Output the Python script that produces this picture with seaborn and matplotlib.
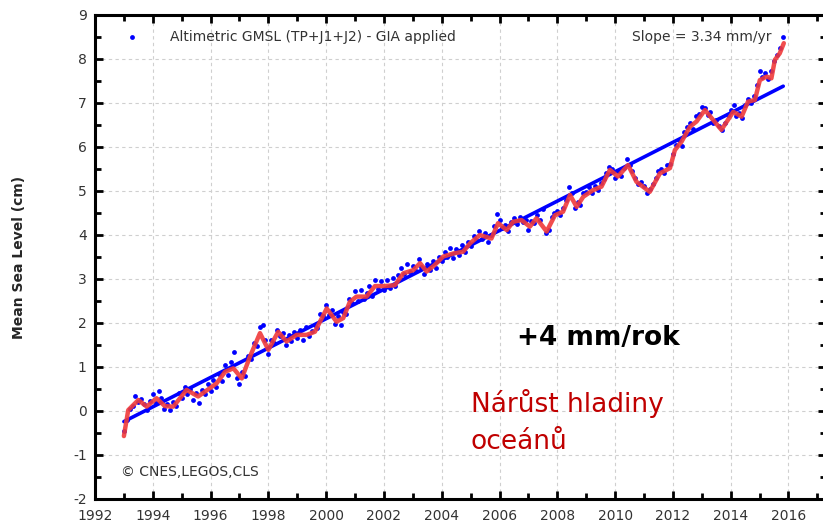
import numpy as np
import pandas as pd
import seaborn as sns
import matplotlib.pyplot as plt
from matplotlib.ticker import MultipleLocator

# smoothed curve (red)
red_years = [1993.0, 1993.15, 1993.5, 1993.79, 1994.13, 1994.42, 1994.71, 1995.17, 1995.57,
             1995.98, 1996.21, 1996.5, 1996.79, 1997.08, 1997.36, 1997.71, 1998.0, 1998.34,
             1998.63, 1998.98, 1999.32, 1999.61, 2000.02, 2000.36, 2000.59, 2000.82, 2001.05,
             2001.4, 2001.69, 2002.03, 2002.38, 2002.67, 2003.01, 2003.25, 2003.48, 2003.76,
             2004.05, 2004.4, 2004.74, 2004.98, 2005.32, 2005.72, 2005.95, 2006.25, 2006.47,
             2006.76, 2007.05, 2007.28, 2007.63, 2007.92, 2008.2, 2008.44, 2008.67, 2008.9,
             2009.24, 2009.53, 2009.82, 2010.1, 2010.45, 2010.74, 2011.2, 2011.55, 2011.9,
             2012.07, 2012.3, 2012.59, 2012.82, 2013.11, 2013.4, 2013.68, 2014.09, 2014.38,
             2014.6, 2014.84, 2015.01, 2015.24, 2015.41, 2015.53, 2015.7, 2015.84]
red_vals = [-0.57, 0.02, 0.25, 0.10, 0.29, 0.11, 0.10, 0.48, 0.33,
            0.52, 0.63, 0.89, 0.97, 0.74, 1.23, 1.77, 1.39, 1.80,
            1.58, 1.73, 1.73, 1.80, 2.33, 2.03, 2.11, 2.48, 2.60,
            2.60, 2.84, 2.84, 2.86, 3.13, 3.20, 3.36, 3.17, 3.32,
            3.51, 3.58, 3.62, 3.81, 4.00, 3.92, 4.27, 4.11, 4.30,
            4.34, 4.19, 4.38, 4.08, 4.45, 4.53, 4.91, 4.64, 4.87,
            5.02, 5.10, 5.48, 5.33, 5.59, 5.21, 4.98, 5.40, 5.52,
            5.93, 6.12, 6.46, 6.58, 6.84, 6.61, 6.39, 6.80, 6.69,
            7.03, 7.07, 7.52, 7.60, 7.56, 7.98, 8.13, 8.36]

# altimetric GMSL samples, one row per year, every 0.1 yr from 1993.0
gmsl_vals = [
    -0.45, -0.20, 0.05, 0.12, 0.33, 0.20, 0.28, 0.15, 0.02, 0.22,   # 1993
    0.38, 0.18, 0.45, 0.30, 0.05, 0.15, 0.02, 0.20, 0.12, 0.40,     # 1994
    0.30, 0.55, 0.38, 0.50, 0.25, 0.40, 0.18, 0.48, 0.38, 0.62,     # 1995
    0.45, 0.70, 0.55, 0.85, 0.68, 1.05, 0.82, 1.12, 1.35, 0.75,     # 1996
    0.62, 0.88, 0.80, 1.25, 1.18, 1.55, 1.48, 1.90, 1.95, 1.62,     # 1997
    1.30, 1.62, 1.55, 1.85, 1.70, 1.78, 1.50, 1.72, 1.58, 1.80,     # 1998
    1.65, 1.85, 1.62, 1.90, 1.70, 1.82, 1.95, 1.88, 2.20, 2.15,     # 1999
    2.42, 2.18, 2.30, 1.98, 2.15, 1.95, 2.25, 2.20, 2.55, 2.45,     # 2000
    2.72, 2.50, 2.75, 2.55, 2.68, 2.85, 2.62, 2.98, 2.78, 2.95,     # 2001
    2.75, 2.98, 2.80, 3.02, 2.85, 3.08, 3.25, 3.12, 3.35, 3.15,     # 2002
    3.30, 3.18, 3.45, 3.28, 3.12, 3.35, 3.20, 3.40, 3.25, 3.50,     # 2003
    3.42, 3.62, 3.50, 3.70, 3.48, 3.68, 3.55, 3.78, 3.62, 3.85,     # 2004
    3.75, 3.98, 3.88, 4.10, 3.92, 4.05, 3.85, 4.00, 4.20, 4.48,     # 2005
    4.35, 4.15, 4.22, 4.08, 4.30, 4.38, 4.25, 4.42, 4.30, 4.35,     # 2006
    4.12, 4.32, 4.28, 4.45, 4.35, 4.58, 4.05, 4.12, 4.40, 4.50,     # 2007
    4.55, 4.45, 4.62, 4.80, 5.08, 4.95, 4.62, 4.75, 4.68, 4.95,     # 2008
    4.98, 5.08, 4.95, 5.12, 5.02, 5.18, 5.28, 5.42, 5.55, 5.50,     # 2009
    5.30, 5.45, 5.35, 5.52, 5.72, 5.60, 5.45, 5.30, 5.15, 5.20,     # 2010
    5.12, 4.95, 5.05, 5.15, 5.30, 5.45, 5.50, 5.40, 5.58, 5.62,     # 2011
    5.85, 6.05, 6.15, 6.02, 6.35, 6.45, 6.55, 6.40, 6.70, 6.75,     # 2012
    6.90, 6.88, 6.72, 6.80, 6.55, 6.62, 6.48, 6.38, 6.55, 6.72,     # 2013
    6.85, 6.95, 6.70, 6.78, 6.65, 6.95, 7.10, 7.00, 7.15, 7.40,     # 2014
    7.72, 7.60, 7.68, 7.55, 7.72, 7.95, 8.10, 8.25, 8.50,           # 2015
]
gmsl_years = 1993.0 + 0.1 * np.arange(len(gmsl_vals))

# linear trend: 3.34 mm/yr
trend_years = [1993.0, 2015.82]
trend_start = -0.24
trend_slope = 0.334  # cm/yr
trend_vals = [trend_start + trend_slope * (y - trend_years[0]) for y in trend_years]

sns.set_theme(style="ticks")
plt.rcParams['font.family'] = ['DejaVu Sans']
plt.rcParams['axes.unicode_minus'] = False

fig = plt.figure(figsize=(8.23, 5.22), dpi=100)
ax = fig.add_axes([95 / 823, 23 / 522, 731 / 823, 484 / 522])

dots = pd.DataFrame({'year': gmsl_years, 'gmsl': gmsl_vals})
sns.scatterplot(data=dots, x='year', y='gmsl', ax=ax, color='#0000ff', s=12,
                linewidth=0, label='Altimetric GMSL (TP+J1+J2) - GIA applied', zorder=3)
sns.lineplot(x=trend_years, y=trend_vals, ax=ax, color='#0000ff', lw=2.6, zorder=4)
sns.lineplot(x=red_years, y=red_vals, ax=ax, color='#f03a3a', lw=3.2, alpha=0.9,
             sort=False, zorder=5)

ax.set_xlim(1992, 2017.3)
ax.set_ylim(-2, 9)
ax.xaxis.set_major_locator(MultipleLocator(2))
ax.xaxis.set_minor_locator(MultipleLocator(1))
ax.yaxis.set_major_locator(MultipleLocator(1))
ax.yaxis.set_minor_locator(MultipleLocator(0.5))
ax.grid(True, which='major', color='#cfcfcf', linestyle=(0, (3, 3)), linewidth=0.8)
ax.tick_params(which='both', direction='in', top=True, right=True, color='black',
               labelcolor='#333333', labelsize=10)
ax.tick_params(which='major', length=6, width=2)
ax.tick_params(which='minor', length=4, width=2)
ax.tick_params(axis='x', which='major', pad=7)
ax.tick_params(axis='y', which='major', pad=6)
for sp in ax.spines.values():
    sp.set_linewidth(2.2)
    sp.set_color('black')

ax.set_xlabel('')
ax.set_ylabel('Mean Sea Level (cm)', fontsize=10, fontweight='bold')
ax.yaxis.set_label_coords(-0.094, 0.5)

leg = ax.legend(loc='upper left', bbox_to_anchor=(0.015, 0.995), frameon=False,
                fontsize=10, handletextpad=1.7, markerscale=1.0, labelcolor='#333333')

ax.text(2015.43, 8.5, 'Slope = 3.34 mm/yr', ha='right', va='center', fontsize=10, color='#333333')
ax.text(1992.9, -1.39, '\u00a9 CNES,LEGOS,CLS', ha='left', va='center', fontsize=10, color='#333333')
ax.text(2006.6, 1.66, '+4 mm/rok', ha='left', va='center', fontsize=19, fontweight='bold', color='black')
ax.text(2005.0, 0.18, 'Nárůst hladiny', ha='left', va='center', fontsize=19, color='#c00000')
ax.text(2005.0, -0.70, 'oceánů', ha='left', va='center', fontsize=19, color='#c00000')

fig.savefig('out.png', dpi=100)
